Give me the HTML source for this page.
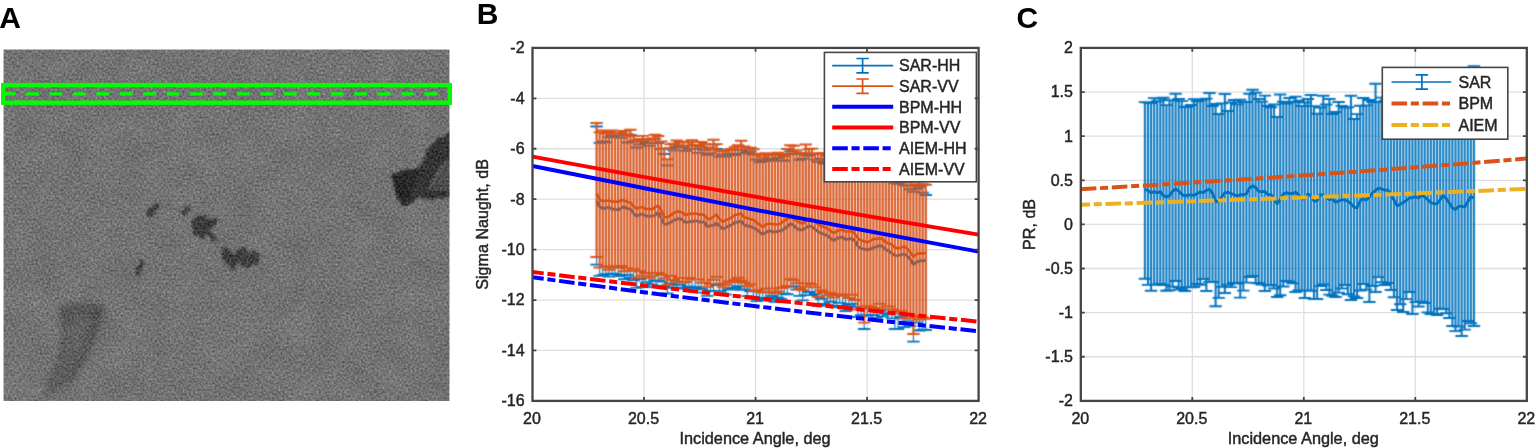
<!DOCTYPE html>
<html lang="en"><head><meta charset="utf-8"><title>SAR sigma naught and PR versus incidence angle</title>
<style>html,body{margin:0;padding:0;background:#fff}body{width:1536px;height:448px;overflow:hidden}svg{display:block}text{font-family:"Liberation Sans", Arial, Helvetica, sans-serif;fill:#262626;stroke:#262626;stroke-width:0.45px}</style></head><body>
<svg width="1536" height="448" viewBox="0 0 1536 448">
<rect width="1536" height="448" fill="#fff"/>
<defs>
<filter id="spk" x="0" y="0" width="100%" height="100%" color-interpolation-filters="sRGB"><feTurbulence type="fractalNoise" baseFrequency="0.47" numOctaves="1" seed="7" result="n"/><feColorMatrix in="n" type="matrix" values="1 0 0 0 0  1 0 0 0 0  1 0 0 0 0  0 0 0 0 1" result="g"/><feComposite in="SourceGraphic" in2="g" operator="arithmetic" k1="0" k2="1" k3="0.40" k4="-0.20" result="s1"/><feTurbulence type="fractalNoise" baseFrequency="0.035" numOctaves="2" seed="21" result="m"/><feColorMatrix in="m" type="matrix" values="0 1 0 0 0  0 1 0 0 0  0 1 0 0 0  0 0 0 0 1" result="mg"/><feComposite in="s1" in2="mg" operator="arithmetic" k1="0" k2="1" k3="0.07" k4="-0.035"/></filter>
<filter id="rough" x="-20%" y="-20%" width="140%" height="140%"><feTurbulence type="fractalNoise" baseFrequency="0.22" numOctaves="2" seed="4" result="t"/><feDisplacementMap in="SourceGraphic" in2="t" scale="7" xChannelSelector="R" yChannelSelector="G" result="d"/><feGaussianBlur in="d" stdDeviation="0.9"/></filter>
<filter id="soft" x="-5%" y="-5%" width="110%" height="110%" color-interpolation-filters="sRGB"><feConvolveMatrix order="3" kernelMatrix="0.0324 0.1152 0.0324 0.1152 0.4096 0.1152 0.0324 0.1152 0.0324" divisor="1" edgeMode="none" preserveAlpha="false"/></filter>
<filter id="b1" x="-20%" y="-20%" width="140%" height="140%"><feGaussianBlur stdDeviation="0.9"/></filter>
<filter id="b4" x="-30%" y="-30%" width="160%" height="160%"><feGaussianBlur stdDeviation="4"/></filter>
<filter id="b3" x="-30%" y="-30%" width="160%" height="160%"><feGaussianBlur stdDeviation="3"/></filter>
<filter id="b2" x="-30%" y="-30%" width="160%" height="160%"><feGaussianBlur stdDeviation="1.8"/></filter>
<clipPath id="cA"><rect x="3.5" y="49.5" width="446" height="351.5"/></clipPath>
<clipPath id="cB"><rect x="532.5" y="47.9" width="446.1" height="353"/></clipPath>
<clipPath id="cC"><rect x="1080.8" y="47.9" width="446" height="353"/></clipPath>
</defs>
<text x="-0.7" y="28.1" font-size="30" font-weight="700" fill="#000" style="fill:#000;stroke:none">A</text>
<g clip-path="url(#cA)">
<g filter="url(#spk)">
<rect x="3.5" y="49.5" width="446" height="351.5" fill="#737373"/>
<path filter="url(#b3)" fill="#505050" fill-opacity="0.55" d="M58 309 L78 303 L104 307 L100 324 L92 347 L78 373 L63 388 L40 402 L49 379 L60 352 L63 329 Z"/>
<path filter="url(#b2)" fill="#484848" fill-opacity="0.35" d="M58 309 L78 303 L104 307 L101 318 L84 316 L70 322 L64 334 L62 352 L52 378 L41 401 L40 402 L49 379 L60 352 L63 329 Z"/>
<path filter="url(#b2)" fill="#484848" fill-opacity="0.35" d="M92 310 L104 307 L100 324 L92 347 L78 373 L66 386 L76 366 L86 340 Z"/>
<g filter="url(#rough)" fill="#363636" fill-opacity="0.88">
<path d="M147 212 l4 -6 l7 -3 l2 3 l-5 6 l-5 5 l-3 -1 z"/>
<path d="M182 211 l3 -6 l6 -2 l0 5 l-4 5 l-3 4 l-3 -1 z"/>
<path d="M191 225 q0 -8 9 -9 q7 0 11 4 l8 -1 l-5 6 l-4 7 l6 5 l3 5 l-7 -1 l-5 -6 l-4 4 l-6 -3 q-6 -4 -6 -11 z"/>
<path d="M222 246 l8 3 l4 7 l5 -7 l9 -3 l-3 6 l9 -2 l7 4 l-3 8 l-8 5 l-8 0 l-4 -6 l-3 9 l-5 -1 l-2 -7 l-2 4 l-4 -9 z"/>
<path d="M135 274 l2 -7 l4 -7 l3 1 l-2 7 l-3 7 l-3 2 z"/>
</g>
<path filter="url(#rough)" fill="#2e2e2e" fill-opacity="0.93" d="M452 133 L437 139 L428 148 L425 157 L420 167 L405 170 L391 174 L394 186 L398 197 L404 207 L412 203 L421 197 L431 200 L452 196 Z"/>
<path filter="url(#b1)" fill="#505050" fill-opacity="0.85" d="M447 162 L440 169 L428 190 L452 192 L452 161 Z"/>
<path filter="url(#b1)" fill="none" stroke="#808080" stroke-opacity="0.75" stroke-width="1.4" d="M448 160 L440 169 L429 189"/>
<path filter="url(#b1)" fill="#1c1c1c" fill-opacity="0.6" d="M392 175 L404 171 L418 170 L414 186 L408 203 L403 206 L397 196 Z"/>
</g>
</g>
<rect x="3.2" y="85.1" width="446.6" height="17.6" fill="none" stroke="#04fb04" stroke-width="4.4"/>
<line x1="2.6" y1="93.95" x2="447" y2="93.95" stroke="#04fb04" stroke-width="3.3" stroke-dasharray="12.9 10.53"/>
<text x="476.8" y="23.9" font-size="30" font-weight="700" style="fill:#000;stroke:none">B</text>
<rect x="532.5" y="47.9" width="446.1" height="353" fill="#fff"/>
<path d="M644.02 47.9V400.9M755.55 47.9V400.9M867.08 47.9V400.9M532.5 350.47H978.6M532.5 300.04H978.6M532.5 249.61H978.6M532.5 199.19H978.6M532.5 148.76H978.6M532.5 98.33H978.6" stroke="#dfdfdf" stroke-width="1.3" fill="none"/>
<g clip-path="url(#cB)">
<g filter="url(#soft)">
<path d="M596.6 264.69V126.51M599.68 275.95V142.84M602.76 275.1V141.37M605.83 274.22V142.26M608.91 276.6V137.33M611.98 273.64V135.48M615.06 274.11V137.39M618.14 276.15V137.36M621.21 275.05V137.61M624.29 279.27V135.09M627.36 274.81V142.52M630.44 277.35V134.92M633.52 280.24V141.4M636.59 287.97V147.51M639.67 279.04V144.43M642.74 286.89V141.47M645.82 282.35V142.88M648.9 287.16V145.79M651.97 284.49V142.99M655.05 280.31V138.72M658.12 281.01V143.12M661.2 281.55V148.86M664.28 286.21V153.98M667.35 293.5V165.35M670.43 283.56V148.15M673.5 287.97V150.33M676.58 287.77V147.15M679.66 284.79V145.82M682.73 288.66V146.95M685.81 288.51V150.78M688.88 286.58V148.96M691.96 287.06V145.66M695.04 286.91V148.94M698.11 288.69V152.79M701.19 289.23V146.56M704.26 292.63V149.96M707.34 295.94V154.78M710.42 290.86V153.46M713.49 291.02V144.67M716.57 285.19V148.81M719.64 291.09V156.57M722.72 293.66V154.56M725.8 294.53V156.53M728.87 289.48V153.65M731.95 288.74V153.73M735.02 287.98V155.03M738.1 286.08V149.91M741.18 289.74V149.95M744.25 289.46V153.44M747.33 296.12V151.83M750.4 291.23V151.54M753.48 296.85V154.62M756.56 301.03V159.71M759.63 298.84V162.16M762.71 300.24V161.33M765.78 297.91V160.08M768.86 299.29V158.67M771.94 295.91V159.43M775.01 301.77V160.96M778.09 297.72V157.91M781.16 299.18V160.42M784.24 293.77V160.76M787.32 294.26V154M790.39 286.96V151.35M793.47 286.48V150.66M796.54 289.68V154.15M799.62 295.92V159.85M802.7 300.28V158.58M805.77 295.18V154.83M808.85 292V155.63M811.92 295.22V153.88M815 293.87V159.66M818.08 305.8V161.83M821.15 298.95V158.76M824.23 303.99V163.64M827.3 305.59V162.15M830.38 301.76V163.62M833.46 306V168.74M836.53 307.15V164.4M839.61 302.85V165.49M842.69 305.78V167.08M845.76 311V168.28M848.84 304.74V166.95M851.91 303.91V169.31M854.99 306.96V170.35M858.07 317.01V172.51M861.14 315.26V175.67M864.22 329V174.76M867.29 315.96V175.76M870.37 315.21V175.51M873.45 314.78V169.87M876.52 317.8V175.08M879.6 310.77V179.85M882.67 316.28V171.74M885.75 313.38V174.83M888.83 314.43V178.53M891.9 318.46V177.26M894.98 329V183.17M898.05 329V183.76M901.13 316.96V181.46M904.21 327.08V185.19M907.28 321.34V185.59M910.36 326.2V189.24M913.43 341.7V191.8M916.51 322.55V188.93M919.59 330.5V186.74M922.66 329.57V192.55M925.74 330V194.98" stroke="#0072bd" stroke-width="1.1" fill="none"/><path d="M590.4 264.69h12.4M590.4 126.51h12.4M593.48 275.95h12.4M593.48 142.84h12.4M596.56 275.1h12.4M596.56 141.37h12.4M599.63 274.22h12.4M599.63 142.26h12.4M602.71 276.6h12.4M602.71 137.33h12.4M605.78 273.64h12.4M605.78 135.48h12.4M608.86 274.11h12.4M608.86 137.39h12.4M611.94 276.15h12.4M611.94 137.36h12.4M615.01 275.05h12.4M615.01 137.61h12.4M618.09 279.27h12.4M618.09 135.09h12.4M621.16 274.81h12.4M621.16 142.52h12.4M624.24 277.35h12.4M624.24 134.92h12.4M627.32 280.24h12.4M627.32 141.4h12.4M630.39 287.97h12.4M630.39 147.51h12.4M633.47 279.04h12.4M633.47 144.43h12.4M636.54 286.89h12.4M636.54 141.47h12.4M639.62 282.35h12.4M639.62 142.88h12.4M642.7 287.16h12.4M642.7 145.79h12.4M645.77 284.49h12.4M645.77 142.99h12.4M648.85 280.31h12.4M648.85 138.72h12.4M651.92 281.01h12.4M651.92 143.12h12.4M655 281.55h12.4M655 148.86h12.4M658.08 286.21h12.4M658.08 153.98h12.4M661.15 293.5h12.4M661.15 165.35h12.4M664.23 283.56h12.4M664.23 148.15h12.4M667.3 287.97h12.4M667.3 150.33h12.4M670.38 287.77h12.4M670.38 147.15h12.4M673.46 284.79h12.4M673.46 145.82h12.4M676.53 288.66h12.4M676.53 146.95h12.4M679.61 288.51h12.4M679.61 150.78h12.4M682.68 286.58h12.4M682.68 148.96h12.4M685.76 287.06h12.4M685.76 145.66h12.4M688.84 286.91h12.4M688.84 148.94h12.4M691.91 288.69h12.4M691.91 152.79h12.4M694.99 289.23h12.4M694.99 146.56h12.4M698.06 292.63h12.4M698.06 149.96h12.4M701.14 295.94h12.4M701.14 154.78h12.4M704.22 290.86h12.4M704.22 153.46h12.4M707.29 291.02h12.4M707.29 144.67h12.4M710.37 285.19h12.4M710.37 148.81h12.4M713.44 291.09h12.4M713.44 156.57h12.4M716.52 293.66h12.4M716.52 154.56h12.4M719.6 294.53h12.4M719.6 156.53h12.4M722.67 289.48h12.4M722.67 153.65h12.4M725.75 288.74h12.4M725.75 153.73h12.4M728.82 287.98h12.4M728.82 155.03h12.4M731.9 286.08h12.4M731.9 149.91h12.4M734.98 289.74h12.4M734.98 149.95h12.4M738.05 289.46h12.4M738.05 153.44h12.4M741.13 296.12h12.4M741.13 151.83h12.4M744.2 291.23h12.4M744.2 151.54h12.4M747.28 296.85h12.4M747.28 154.62h12.4M750.36 301.03h12.4M750.36 159.71h12.4M753.43 298.84h12.4M753.43 162.16h12.4M756.51 300.24h12.4M756.51 161.33h12.4M759.58 297.91h12.4M759.58 160.08h12.4M762.66 299.29h12.4M762.66 158.67h12.4M765.74 295.91h12.4M765.74 159.43h12.4M768.81 301.77h12.4M768.81 160.96h12.4M771.89 297.72h12.4M771.89 157.91h12.4M774.96 299.18h12.4M774.96 160.42h12.4M778.04 293.77h12.4M778.04 160.76h12.4M781.12 294.26h12.4M781.12 154h12.4M784.19 286.96h12.4M784.19 151.35h12.4M787.27 286.48h12.4M787.27 150.66h12.4M790.34 289.68h12.4M790.34 154.15h12.4M793.42 295.92h12.4M793.42 159.85h12.4M796.5 300.28h12.4M796.5 158.58h12.4M799.57 295.18h12.4M799.57 154.83h12.4M802.65 292h12.4M802.65 155.63h12.4M805.72 295.22h12.4M805.72 153.88h12.4M808.8 293.87h12.4M808.8 159.66h12.4M811.88 305.8h12.4M811.88 161.83h12.4M814.95 298.95h12.4M814.95 158.76h12.4M818.03 303.99h12.4M818.03 163.64h12.4M821.1 305.59h12.4M821.1 162.15h12.4M824.18 301.76h12.4M824.18 163.62h12.4M827.26 306h12.4M827.26 168.74h12.4M830.33 307.15h12.4M830.33 164.4h12.4M833.41 302.85h12.4M833.41 165.49h12.4M836.49 305.78h12.4M836.49 167.08h12.4M839.56 311h12.4M839.56 168.28h12.4M842.64 304.74h12.4M842.64 166.95h12.4M845.71 303.91h12.4M845.71 169.31h12.4M848.79 306.96h12.4M848.79 170.35h12.4M851.87 317.01h12.4M851.87 172.51h12.4M854.94 315.26h12.4M854.94 175.67h12.4M858.02 329h12.4M858.02 174.76h12.4M861.09 315.96h12.4M861.09 175.76h12.4M864.17 315.21h12.4M864.17 175.51h12.4M867.25 314.78h12.4M867.25 169.87h12.4M870.32 317.8h12.4M870.32 175.08h12.4M873.4 310.77h12.4M873.4 179.85h12.4M876.47 316.28h12.4M876.47 171.74h12.4M879.55 313.38h12.4M879.55 174.83h12.4M882.63 314.43h12.4M882.63 178.53h12.4M885.7 318.46h12.4M885.7 177.26h12.4M888.78 329h12.4M888.78 183.17h12.4M891.85 329h12.4M891.85 183.76h12.4M894.93 316.96h12.4M894.93 181.46h12.4M898.01 327.08h12.4M898.01 185.19h12.4M901.08 321.34h12.4M901.08 185.59h12.4M904.16 326.2h12.4M904.16 189.24h12.4M907.23 341.7h12.4M907.23 191.8h12.4M910.31 322.55h12.4M910.31 188.93h12.4M913.39 330.5h12.4M913.39 186.74h12.4M916.46 329.57h12.4M916.46 192.55h12.4M919.54 330h12.4M919.54 194.98h12.4" stroke="#0072bd" stroke-width="1.8" fill="none"/>
<polyline points="596.6,200.69 599.68,206.7 602.76,208.62 605.83,207.95 608.91,207.31 611.98,208.85 615.06,209.35 618.14,210.09 621.21,207.94 624.29,206.8 627.36,208.63 630.44,208.88 633.52,213.36 636.59,216.46 639.67,214.39 642.74,214.45 645.82,215.84 648.9,216.29 651.97,216.17 655.05,215.35 658.12,212.2 661.2,218.23 664.28,224.23 667.35,223.95 670.43,222.4 673.5,220.5 676.58,219.22 679.66,218.38 682.73,220.26 685.81,222.86 688.88,221.6 691.96,221.65 695.04,220.65 698.11,221.34 701.19,222.45 704.26,221.83 707.34,226.9 710.42,225.51 713.49,225.38 716.57,223.12 719.64,226.04 722.72,229.19 725.8,227.71 728.87,225.8 731.95,224.88 735.02,221.94 738.1,222.27 741.18,221.02 744.25,224.85 747.33,225.9 750.4,226.35 753.48,227.76 756.56,229.5 759.63,231.95 762.71,234.35 765.78,232.59 768.86,230.77 771.94,231.52 775.01,232.35 778.09,231.05 781.16,230.94 784.24,228.9 787.32,226.56 790.39,223.57 793.47,225.3 796.54,228.35 799.62,229.83 802.7,229.82 805.77,227.95 808.85,225.95 811.92,226.57 815,229.3 818.08,231.6 821.15,233.24 824.23,234.39 827.3,235.49 830.38,238.22 833.46,240.54 836.53,238.8 839.61,237.35 842.69,237.36 845.76,239.57 848.84,238.98 851.91,238.6 854.99,240.94 858.07,246.6 861.14,248.45 864.22,248.95 867.29,249.89 870.37,249.06 873.45,247.69 876.52,246.69 879.6,245.59 882.67,246.63 885.75,249.55 888.83,251.22 891.9,253.3 894.98,255.71 898.05,255.52 901.13,254.71 904.21,254.02 907.28,256.15 910.36,259.31 913.43,264.5 916.51,261.93 919.59,260.94 922.66,260.56 925.74,260.64" stroke="#1f5f9a" stroke-width="2.6" fill="none" stroke-linejoin="round"/>
<path d="M596.6 257.06V123M599.68 267.44V132.4M602.76 267.55V130.41M605.83 266.5V133.18M608.91 269.85V131.87M611.98 266.18V130.38M615.06 267.81V132.89M618.14 266.74V133.16M621.21 265.96V132.68M624.29 271.32V130.85M627.36 268.36V134.19M630.44 270.91V129.7M633.52 268.89V136.11M636.59 278.13V140.47M639.67 271.31V138.85M642.74 275.74V135.9M645.82 273.06V139.01M648.9 277.83V139.78M651.97 275.71V138.37M655.05 273.13V134.77M658.12 272.96V135.97M661.2 274.71V141.43M664.28 278.53V148.33M667.35 284.97V159.2M670.43 276.06V144.34M673.5 279.92V143.8M676.58 281.46V140.38M679.66 277.95V141.69M682.73 282.5V141.84M685.81 282.02V145.34M688.88 277.92V142.46M691.96 279.51V140.32M695.04 279.38V145.02M698.11 279.53V145.85M701.19 282.64V141.99M704.26 282.76V144.05M707.34 286.87V147.39M710.42 284.05V148.3M713.49 279.79V139.7M716.57 276.84V144.09M719.64 283.75V150.27M722.72 287.33V151M725.8 284.75V150.34M728.87 281.44V149.65M731.95 282.41V149.02M735.02 280.02V146.84M738.1 277.82V145.3M741.18 280.75V140.8M744.25 282.79V146.49M747.33 286.48V147.64M750.4 284.37V147.63M753.48 290.51V149.3M756.56 290.11V153.62M759.63 291.67V154.78M762.71 292.56V157.09M765.78 288.71V153.29M768.86 291.63V155.16M771.94 288.46V153.75M775.01 293.42V155.08M778.09 291.46V152.69M781.16 287.99V154.23M784.24 287.5V156.21M787.32 285.99V148.95M790.39 279.3V145.23M793.47 280.23V145.7M796.54 283.32V150.57M799.62 288.96V152.93M802.7 290.2V153.23M805.77 286.84V144.5M808.85 283.36V149.15M811.92 284.62V148.62M815 287.36V153.11M818.08 297V154.1M821.15 290.55V153.04M824.23 292.49V159.8M827.3 295.5V155.84M830.38 293.22V159.82M833.46 297.66V162.41M836.53 295.17V160.09M839.61 294.42V158.7M842.69 295.75V162.04M845.76 294.87V161.52M848.84 297.93V162.48M851.91 294.74V164.7M854.99 300.04V166.41M858.07 309.5V167.07M861.14 308.71V171.37M864.22 322.6V170.58M867.29 306.08V171.26M870.37 306.88V171.12M873.45 307.98V166.36M876.52 309.23V168.68M879.6 303.91V169.37M882.67 309.3V167.51M885.75 306.6V171.05M888.83 306.55V173.47M891.9 309.44V173.12M894.98 313.36V177.46M898.05 311.26V178.75M901.13 310.92V175.64M904.21 318.49V176.38M907.28 314.51V178.96M910.36 318.26V181.88M913.43 334V185.85M916.51 315.98V184.08M919.59 319.44V181.18M922.66 317.39V183.92M925.74 318.81V184.72" stroke="#d95319" stroke-width="2.1" fill="none"/><path d="M590.4 257.06h12.4M590.4 123h12.4M593.48 267.44h12.4M593.48 132.4h12.4M596.56 267.55h12.4M596.56 130.41h12.4M599.63 266.5h12.4M599.63 133.18h12.4M602.71 269.85h12.4M602.71 131.87h12.4M605.78 266.18h12.4M605.78 130.38h12.4M608.86 267.81h12.4M608.86 132.89h12.4M611.94 266.74h12.4M611.94 133.16h12.4M615.01 265.96h12.4M615.01 132.68h12.4M618.09 271.32h12.4M618.09 130.85h12.4M621.16 268.36h12.4M621.16 134.19h12.4M624.24 270.91h12.4M624.24 129.7h12.4M627.32 268.89h12.4M627.32 136.11h12.4M630.39 278.13h12.4M630.39 140.47h12.4M633.47 271.31h12.4M633.47 138.85h12.4M636.54 275.74h12.4M636.54 135.9h12.4M639.62 273.06h12.4M639.62 139.01h12.4M642.7 277.83h12.4M642.7 139.78h12.4M645.77 275.71h12.4M645.77 138.37h12.4M648.85 273.13h12.4M648.85 134.77h12.4M651.92 272.96h12.4M651.92 135.97h12.4M655 274.71h12.4M655 141.43h12.4M658.08 278.53h12.4M658.08 148.33h12.4M661.15 284.97h12.4M661.15 159.2h12.4M664.23 276.06h12.4M664.23 144.34h12.4M667.3 279.92h12.4M667.3 143.8h12.4M670.38 281.46h12.4M670.38 140.38h12.4M673.46 277.95h12.4M673.46 141.69h12.4M676.53 282.5h12.4M676.53 141.84h12.4M679.61 282.02h12.4M679.61 145.34h12.4M682.68 277.92h12.4M682.68 142.46h12.4M685.76 279.51h12.4M685.76 140.32h12.4M688.84 279.38h12.4M688.84 145.02h12.4M691.91 279.53h12.4M691.91 145.85h12.4M694.99 282.64h12.4M694.99 141.99h12.4M698.06 282.76h12.4M698.06 144.05h12.4M701.14 286.87h12.4M701.14 147.39h12.4M704.22 284.05h12.4M704.22 148.3h12.4M707.29 279.79h12.4M707.29 139.7h12.4M710.37 276.84h12.4M710.37 144.09h12.4M713.44 283.75h12.4M713.44 150.27h12.4M716.52 287.33h12.4M716.52 151h12.4M719.6 284.75h12.4M719.6 150.34h12.4M722.67 281.44h12.4M722.67 149.65h12.4M725.75 282.41h12.4M725.75 149.02h12.4M728.82 280.02h12.4M728.82 146.84h12.4M731.9 277.82h12.4M731.9 145.3h12.4M734.98 280.75h12.4M734.98 140.8h12.4M738.05 282.79h12.4M738.05 146.49h12.4M741.13 286.48h12.4M741.13 147.64h12.4M744.2 284.37h12.4M744.2 147.63h12.4M747.28 290.51h12.4M747.28 149.3h12.4M750.36 290.11h12.4M750.36 153.62h12.4M753.43 291.67h12.4M753.43 154.78h12.4M756.51 292.56h12.4M756.51 157.09h12.4M759.58 288.71h12.4M759.58 153.29h12.4M762.66 291.63h12.4M762.66 155.16h12.4M765.74 288.46h12.4M765.74 153.75h12.4M768.81 293.42h12.4M768.81 155.08h12.4M771.89 291.46h12.4M771.89 152.69h12.4M774.96 287.99h12.4M774.96 154.23h12.4M778.04 287.5h12.4M778.04 156.21h12.4M781.12 285.99h12.4M781.12 148.95h12.4M784.19 279.3h12.4M784.19 145.23h12.4M787.27 280.23h12.4M787.27 145.7h12.4M790.34 283.32h12.4M790.34 150.57h12.4M793.42 288.96h12.4M793.42 152.93h12.4M796.5 290.2h12.4M796.5 153.23h12.4M799.57 286.84h12.4M799.57 144.5h12.4M802.65 283.36h12.4M802.65 149.15h12.4M805.72 284.62h12.4M805.72 148.62h12.4M808.8 287.36h12.4M808.8 153.11h12.4M811.88 297h12.4M811.88 154.1h12.4M814.95 290.55h12.4M814.95 153.04h12.4M818.03 292.49h12.4M818.03 159.8h12.4M821.1 295.5h12.4M821.1 155.84h12.4M824.18 293.22h12.4M824.18 159.82h12.4M827.26 297.66h12.4M827.26 162.41h12.4M830.33 295.17h12.4M830.33 160.09h12.4M833.41 294.42h12.4M833.41 158.7h12.4M836.49 295.75h12.4M836.49 162.04h12.4M839.56 294.87h12.4M839.56 161.52h12.4M842.64 297.93h12.4M842.64 162.48h12.4M845.71 294.74h12.4M845.71 164.7h12.4M848.79 300.04h12.4M848.79 166.41h12.4M851.87 309.5h12.4M851.87 167.07h12.4M854.94 308.71h12.4M854.94 171.37h12.4M858.02 322.6h12.4M858.02 170.58h12.4M861.09 306.08h12.4M861.09 171.26h12.4M864.17 306.88h12.4M864.17 171.12h12.4M867.25 307.98h12.4M867.25 166.36h12.4M870.32 309.23h12.4M870.32 168.68h12.4M873.4 303.91h12.4M873.4 169.37h12.4M876.47 309.3h12.4M876.47 167.51h12.4M879.55 306.6h12.4M879.55 171.05h12.4M882.63 306.55h12.4M882.63 173.47h12.4M885.7 309.44h12.4M885.7 173.12h12.4M888.78 313.36h12.4M888.78 177.46h12.4M891.85 311.26h12.4M891.85 178.75h12.4M894.93 310.92h12.4M894.93 175.64h12.4M898.01 318.49h12.4M898.01 176.38h12.4M901.08 314.51h12.4M901.08 178.96h12.4M904.16 318.26h12.4M904.16 181.88h12.4M907.23 334h12.4M907.23 185.85h12.4M910.31 315.98h12.4M910.31 184.08h12.4M913.39 319.44h12.4M913.39 181.18h12.4M916.46 317.39h12.4M916.46 183.92h12.4M919.54 318.81h12.4M919.54 184.72h12.4" stroke="#d95319" stroke-width="1.9" fill="none"/>
</g>
<polyline points="596.6,193.27 599.68,199.66 602.76,201.07 605.83,200.68 608.91,200.72 611.98,201.52 615.06,201.63 618.14,201.79 621.21,200.36 624.29,200.52 627.36,201.94 630.44,202.45 633.52,206.31 636.59,208.52 639.67,207.48 642.74,206.99 645.82,209.23 648.9,208.66 651.97,209.52 655.05,207.14 658.12,205.68 661.2,210.22 664.28,217.11 667.35,217.28 670.43,215.29 673.5,213.41 676.58,211.6 679.66,211.51 682.73,212.87 685.81,215.24 688.88,213.66 691.96,214.1 695.04,213.21 698.11,214.39 701.19,214.22 704.26,215.11 707.34,218.87 710.42,218.92 713.49,216.51 716.57,214.63 719.64,219.35 722.72,221.85 725.8,220.03 728.87,218.95 731.95,217.27 735.02,214.91 738.1,214.16 741.18,213.64 744.25,217.45 747.33,217.88 750.4,219.35 753.48,219.7 756.56,222.43 759.63,224.57 762.71,227.02 765.78,224.59 768.86,223.79 771.94,224.07 775.01,224.44 778.09,224.47 781.16,223.09 784.24,220.6 787.32,219 790.39,216.04 793.47,218.65 796.54,220.67 799.62,222.58 802.7,223.6 805.77,221.28 808.85,218.5 811.92,218.84 815,221.51 818.08,224.38 821.15,226.09 824.23,226.92 827.3,228.61 830.38,230.75 833.46,233.01 836.53,231.53 839.61,229.96 842.69,229.75 845.76,231.56 848.84,231.48 851.91,231.23 854.99,234.13 858.07,238.62 861.14,240.46 864.22,241.14 867.29,242.41 870.37,240.86 873.45,238.99 876.52,238.95 879.6,238.19 882.67,239.28 885.75,242.31 888.83,243.61 891.9,244.57 894.98,247.52 898.05,248.27 901.13,247.54 904.21,246.35 907.28,248.82 910.36,252.48 913.43,256.56 916.51,254.18 919.59,253.26 922.66,253.35 925.74,252.93" stroke="#d95319" stroke-width="2.6" fill="none" stroke-linejoin="round"/>
<polyline points="596.6,200.69 599.68,206.7 602.76,208.62 605.83,207.95 608.91,207.31 611.98,208.85 615.06,209.35 618.14,210.09 621.21,207.94 624.29,206.8 627.36,208.63 630.44,208.88 633.52,213.36 636.59,216.46 639.67,214.39 642.74,214.45 645.82,215.84 648.9,216.29 651.97,216.17 655.05,215.35 658.12,212.2 661.2,218.23 664.28,224.23 667.35,223.95 670.43,222.4 673.5,220.5 676.58,219.22 679.66,218.38 682.73,220.26 685.81,222.86 688.88,221.6 691.96,221.65 695.04,220.65 698.11,221.34 701.19,222.45 704.26,221.83 707.34,226.9 710.42,225.51 713.49,225.38 716.57,223.12 719.64,226.04 722.72,229.19 725.8,227.71 728.87,225.8 731.95,224.88 735.02,221.94 738.1,222.27 741.18,221.02 744.25,224.85 747.33,225.9 750.4,226.35 753.48,227.76 756.56,229.5 759.63,231.95 762.71,234.35 765.78,232.59 768.86,230.77 771.94,231.52 775.01,232.35 778.09,231.05 781.16,230.94 784.24,228.9 787.32,226.56 790.39,223.57 793.47,225.3 796.54,228.35 799.62,229.83 802.7,229.82 805.77,227.95 808.85,225.95 811.92,226.57 815,229.3 818.08,231.6 821.15,233.24 824.23,234.39 827.3,235.49 830.38,238.22 833.46,240.54 836.53,238.8 839.61,237.35 842.69,237.36 845.76,239.57 848.84,238.98 851.91,238.6 854.99,240.94 858.07,246.6 861.14,248.45 864.22,248.95 867.29,249.89 870.37,249.06 873.45,247.69 876.52,246.69 879.6,245.59 882.67,246.63 885.75,249.55 888.83,251.22 891.9,253.3 894.98,255.71 898.05,255.52 901.13,254.71 904.21,254.02 907.28,256.15 910.36,259.31 913.43,264.5 916.51,261.93 919.59,260.94 922.66,260.56 925.74,260.64" stroke="#5b6b80" stroke-width="1.0" fill="none" stroke-opacity="0.45" stroke-linejoin="round"/>
<path d="M532.5 166Q755.55 210.8 978.6 251.6" fill="none" stroke="#0000ff" stroke-width="4"/>
<path d="M532.5 156.6Q755.55 198 978.6 234.6" fill="none" stroke="#ff0000" stroke-width="4"/>
<path d="M532.5 277.2Q755.55 308.2 978.6 331.2" fill="none" stroke="#0000ff" stroke-width="4" stroke-dasharray="15.6 3.7 8.1 3.7" stroke-dashoffset="4.3"/>
<path d="M532.5 272Q755.55 299.6 978.6 321.6" fill="none" stroke="#ff0000" stroke-width="4" stroke-dasharray="15.6 3.7 8.1 3.7" stroke-dashoffset="4.3"/>
</g>
<rect x="824.4" y="52.4" width="152" height="129.4" fill="#fff" stroke="#454545" stroke-width="1.6"/>
<path d="M832.2 65.7H893.2M862.6 58.5V72.9M856.4 58.5h12.4M856.4 72.9h12.4" stroke="#0072bd" stroke-width="1.7" fill="none"/>
<path d="M832.2 86.2H893.2M862.6 79V93.4M856.4 79h12.4M856.4 93.4h12.4" stroke="#d95319" stroke-width="1.7" fill="none"/>
<line x1="832.2" y1="106.8" x2="893.2" y2="106.8" stroke="#0000ff" stroke-width="4"/>
<line x1="832.2" y1="127.5" x2="893.2" y2="127.5" stroke="#ff0000" stroke-width="4"/>
<line x1="832.2" y1="148.3" x2="891" y2="148.3" stroke="#0000ff" stroke-width="4" stroke-dasharray="15.6 3.7 8.1 3.7"/>
<line x1="832.2" y1="168.9" x2="891" y2="168.9" stroke="#ff0000" stroke-width="4" stroke-dasharray="15.6 3.7 8.1 3.7"/>
<text x="899" y="71.4" font-size="16">SAR-HH</text>
<text x="899" y="91.9" font-size="16">SAR-VV</text>
<text x="899" y="112.5" font-size="16">BPM-HH</text>
<text x="899" y="133.2" font-size="16">BPM-VV</text>
<text x="899" y="154" font-size="16">AIEM-HH</text>
<text x="899" y="174.6" font-size="16">AIEM-VV</text>
<path d="M644.02 400.9v-3.9M644.02 47.9v3.9M755.55 400.9v-3.9M755.55 47.9v3.9M867.08 400.9v-3.9M867.08 47.9v3.9M532.5 350.47h3.9M978.6 350.47h-3.9M532.5 300.04h3.9M978.6 300.04h-3.9M532.5 249.61h3.9M978.6 249.61h-3.9M532.5 199.19h3.9M978.6 199.19h-3.9M532.5 148.76h3.9M978.6 148.76h-3.9M532.5 98.33h3.9M978.6 98.33h-3.9" stroke="#454545" stroke-width="1.8" fill="none"/>
<rect x="532.5" y="47.9" width="446.1" height="353" fill="none" stroke="#454545" stroke-width="2.3"/>
<text x="532" y="424" font-size="16" text-anchor="middle">20</text>
<text x="643.52" y="424" font-size="16" text-anchor="middle">20.5</text>
<text x="755.05" y="424" font-size="16" text-anchor="middle">21</text>
<text x="866.58" y="424" font-size="16" text-anchor="middle">21.5</text>
<text x="978.1" y="424" font-size="16" text-anchor="middle">22</text>
<text x="524.6" y="406.3" font-size="16" text-anchor="end">-16</text>
<text x="524.6" y="355.87" font-size="16" text-anchor="end">-14</text>
<text x="524.6" y="305.44" font-size="16" text-anchor="end">-12</text>
<text x="524.6" y="255.01" font-size="16" text-anchor="end">-10</text>
<text x="524.6" y="204.59" font-size="16" text-anchor="end">-8</text>
<text x="524.6" y="154.16" font-size="16" text-anchor="end">-6</text>
<text x="524.6" y="103.73" font-size="16" text-anchor="end">-4</text>
<text x="524.6" y="53.3" font-size="16" text-anchor="end">-2</text>
<text x="755.05" y="444.3" font-size="16.3" text-anchor="middle">Incidence Angle, deg</text>
<text transform="translate(488.4 224.4) rotate(-90)" font-size="16.1" text-anchor="middle">Sigma Naught, dB</text>
<text x="1016.6" y="28.0" font-size="30" font-weight="700" style="fill:#000;stroke:none">C</text>
<rect x="1080.8" y="47.9" width="446" height="353" fill="#fff"/>
<path d="M1192.3 47.9V400.9M1303.8 47.9V400.9M1415.3 47.9V400.9M1080.8 356.77H1526.8M1080.8 312.65H1526.8M1080.8 268.52H1526.8M1080.8 224.4H1526.8M1080.8 180.28H1526.8M1080.8 136.15H1526.8M1080.8 92.03H1526.8" stroke="#dfdfdf" stroke-width="1.3" fill="none"/>
<g clip-path="url(#cC)">
<g filter="url(#soft)">
<path d="M1144.89 278.7V102.1M1147.97 284.92V102.61M1151.04 290.7V102.95M1154.12 284.69V98.1M1157.19 284.48V101.21M1160.27 284V98.5M1163.34 285.03V97.69M1166.42 290.7V105.1M1169.49 290.25V100.33M1172.57 286.63V100.24M1175.64 281V93.7M1178.72 287.5V99M1181.79 289.44V101.13M1184.87 291V107M1187.94 287.3V106.63M1191.02 287.24V105.04M1194.1 287V99.2M1197.17 284.02V101.34M1200.25 284.79V100M1203.32 279V99.13M1206.4 291V98.6M1209.47 282V93M1212.55 282V106M1215.62 306.2V103.96M1218.7 297.86V114.04M1221.77 286.83V103.33M1224.85 293V94M1227.92 284.82V111M1231 287.13V102.56M1234.07 283V100M1237.15 283.59V104.39M1240.22 297.6V99.75M1243.3 290.61V102M1246.38 282.65V101.98M1249.45 277.01V93.72M1252.53 276V89.7M1255.6 282.89V92.69M1258.68 283.24V99M1261.75 284.58V101.6M1264.83 291V95.65M1267.9 285.44V106M1270.98 285V107.29M1274.05 288.53V104.49M1277.13 297V117M1280.2 295.22V94.5M1283.28 286.48V101.69M1286.35 281V103.45M1289.43 281.64V98M1292.51 283.33V101.95M1295.58 292V96.58M1298.66 290.34V100.58M1301.73 290.91V106M1304.81 298V102.46M1307.88 290.34V98.96M1310.96 290.79V95M1314.03 299V106.17M1317.11 299V113.8M1320.18 286.17V107.55M1323.26 284.56V95.7M1326.33 290V104.52M1329.41 294.63V99M1332.48 295.77V114M1335.56 297V111.93M1338.64 292.59V102M1341.71 288.44V105.9M1344.79 285V107.52M1347.86 294.22V107.25M1350.94 300V95.7M1354.01 296.41V119M1357.09 298.04V114.13M1360.16 290.43V105.75M1363.24 284V98M1366.31 289.62V105.36M1369.39 302V100M1372.46 286.01V102.03M1375.54 292V83.7M1378.61 277.13V102M1381.69 282.25V97.67M1384.76 285V100.89M1387.84 283.03V95.86M1390.92 290V99.02M1393.99 297.21V104.04M1397.07 310V108.98M1400.14 304.25V105.12M1403.22 312V102.9M1406.29 299.11V100.02M1409.37 292V96.42M1412.44 314V91.96M1415.52 302.09V90.36M1418.59 306.49V96.81M1421.67 301.64V87.77M1424.74 303V90.82M1427.82 312.42V93.16M1430.89 314.07V91.45M1433.97 314V90.88M1437.05 314.98V89.89M1440.12 308.78V84.63M1443.2 309V76.91M1446.27 313.3V82.6M1449.35 318V86.01M1452.42 326V85.63M1455.5 331.09V87.85M1458.57 326.56V82.2M1461.65 336V88.66M1464.72 329.65V81.15M1467.8 321V74.88M1470.87 323.32V69.76M1473.95 326V66.3" stroke="#0072bd" stroke-width="2.0" fill="none"/><path d="M1138.69 278.7h12.4M1138.69 102.1h12.4M1141.77 284.92h12.4M1141.77 102.61h12.4M1144.84 290.7h12.4M1144.84 102.95h12.4M1147.92 284.69h12.4M1147.92 98.1h12.4M1150.99 284.48h12.4M1150.99 101.21h12.4M1154.07 284h12.4M1154.07 98.5h12.4M1157.14 285.03h12.4M1157.14 97.69h12.4M1160.22 290.7h12.4M1160.22 105.1h12.4M1163.29 290.25h12.4M1163.29 100.33h12.4M1166.37 286.63h12.4M1166.37 100.24h12.4M1169.44 281h12.4M1169.44 93.7h12.4M1172.52 287.5h12.4M1172.52 99h12.4M1175.59 289.44h12.4M1175.59 101.13h12.4M1178.67 291h12.4M1178.67 107h12.4M1181.74 287.3h12.4M1181.74 106.63h12.4M1184.82 287.24h12.4M1184.82 105.04h12.4M1187.9 287h12.4M1187.9 99.2h12.4M1190.97 284.02h12.4M1190.97 101.34h12.4M1194.05 284.79h12.4M1194.05 100h12.4M1197.12 279h12.4M1197.12 99.13h12.4M1200.2 291h12.4M1200.2 98.6h12.4M1203.27 282h12.4M1203.27 93h12.4M1206.35 282h12.4M1206.35 106h12.4M1209.42 306.2h12.4M1209.42 103.96h12.4M1212.5 297.86h12.4M1212.5 114.04h12.4M1215.57 286.83h12.4M1215.57 103.33h12.4M1218.65 293h12.4M1218.65 94h12.4M1221.72 284.82h12.4M1221.72 111h12.4M1224.8 287.13h12.4M1224.8 102.56h12.4M1227.87 283h12.4M1227.87 100h12.4M1230.95 283.59h12.4M1230.95 104.39h12.4M1234.02 297.6h12.4M1234.02 99.75h12.4M1237.1 290.61h12.4M1237.1 102h12.4M1240.18 282.65h12.4M1240.18 101.98h12.4M1243.25 277.01h12.4M1243.25 93.72h12.4M1246.33 276h12.4M1246.33 89.7h12.4M1249.4 282.89h12.4M1249.4 92.69h12.4M1252.48 283.24h12.4M1252.48 99h12.4M1255.55 284.58h12.4M1255.55 101.6h12.4M1258.63 291h12.4M1258.63 95.65h12.4M1261.7 285.44h12.4M1261.7 106h12.4M1264.78 285h12.4M1264.78 107.29h12.4M1267.85 288.53h12.4M1267.85 104.49h12.4M1270.93 297h12.4M1270.93 117h12.4M1274 295.22h12.4M1274 94.5h12.4M1277.08 286.48h12.4M1277.08 101.69h12.4M1280.15 281h12.4M1280.15 103.45h12.4M1283.23 281.64h12.4M1283.23 98h12.4M1286.31 283.33h12.4M1286.31 101.95h12.4M1289.38 292h12.4M1289.38 96.58h12.4M1292.46 290.34h12.4M1292.46 100.58h12.4M1295.53 290.91h12.4M1295.53 106h12.4M1298.61 298h12.4M1298.61 102.46h12.4M1301.68 290.34h12.4M1301.68 98.96h12.4M1304.76 290.79h12.4M1304.76 95h12.4M1307.83 299h12.4M1307.83 106.17h12.4M1310.91 299h12.4M1310.91 113.8h12.4M1313.98 286.17h12.4M1313.98 107.55h12.4M1317.06 284.56h12.4M1317.06 95.7h12.4M1320.13 290h12.4M1320.13 104.52h12.4M1323.21 294.63h12.4M1323.21 99h12.4M1326.28 295.77h12.4M1326.28 114h12.4M1329.36 297h12.4M1329.36 111.93h12.4M1332.44 292.59h12.4M1332.44 102h12.4M1335.51 288.44h12.4M1335.51 105.9h12.4M1338.59 285h12.4M1338.59 107.52h12.4M1341.66 294.22h12.4M1341.66 107.25h12.4M1344.74 300h12.4M1344.74 95.7h12.4M1347.81 296.41h12.4M1347.81 119h12.4M1350.89 298.04h12.4M1350.89 114.13h12.4M1353.96 290.43h12.4M1353.96 105.75h12.4M1357.04 284h12.4M1357.04 98h12.4M1360.11 289.62h12.4M1360.11 105.36h12.4M1363.19 302h12.4M1363.19 100h12.4M1366.26 286.01h12.4M1366.26 102.03h12.4M1369.34 292h12.4M1369.34 83.7h12.4M1372.41 277.13h12.4M1372.41 102h12.4M1375.49 282.25h12.4M1375.49 97.67h12.4M1378.56 285h12.4M1378.56 100.89h12.4M1381.64 283.03h12.4M1381.64 95.86h12.4M1384.72 290h12.4M1384.72 99.02h12.4M1387.79 297.21h12.4M1387.79 104.04h12.4M1390.87 310h12.4M1390.87 108.98h12.4M1393.94 304.25h12.4M1393.94 105.12h12.4M1397.02 312h12.4M1397.02 102.9h12.4M1400.09 299.11h12.4M1400.09 100.02h12.4M1403.17 292h12.4M1403.17 96.42h12.4M1406.24 314h12.4M1406.24 91.96h12.4M1409.32 302.09h12.4M1409.32 90.36h12.4M1412.39 306.49h12.4M1412.39 96.81h12.4M1415.47 301.64h12.4M1415.47 87.77h12.4M1418.54 303h12.4M1418.54 90.82h12.4M1421.62 312.42h12.4M1421.62 93.16h12.4M1424.69 314.07h12.4M1424.69 91.45h12.4M1427.77 314h12.4M1427.77 90.88h12.4M1430.85 314.98h12.4M1430.85 89.89h12.4M1433.92 308.78h12.4M1433.92 84.63h12.4M1437 309h12.4M1437 76.91h12.4M1440.07 313.3h12.4M1440.07 82.6h12.4M1443.15 318h12.4M1443.15 86.01h12.4M1446.22 326h12.4M1446.22 85.63h12.4M1449.3 331.09h12.4M1449.3 87.85h12.4M1452.37 326.56h12.4M1452.37 82.2h12.4M1455.45 336h12.4M1455.45 88.66h12.4M1458.52 329.65h12.4M1458.52 81.15h12.4M1461.6 321h12.4M1461.6 74.88h12.4M1464.67 323.32h12.4M1464.67 69.76h12.4M1467.75 326h12.4M1467.75 66.3h12.4" stroke="#0072bd" stroke-width="1.9" fill="none"/>
</g>
<polyline points="1144.89,189.37 1147.97,190.51 1151.04,192.93 1154.12,191.59 1157.19,193.1 1160.27,191.62 1163.34,195.53 1166.42,196.95 1169.49,195.66 1172.57,191.28 1175.64,188.84 1178.72,191.11 1181.79,194.3 1184.87,196.11 1187.94,194.83 1191.02,195.15 1194.1,195.25 1197.17,193.57 1200.25,192.01 1203.32,192.65 1206.4,190.39 1209.47,189.17 1212.55,193.44 1215.62,201.16 1218.7,201.96 1221.77,196.6 1224.85,192.88 1227.92,192.31 1231,193.57 1234.07,194.78 1237.15,196.01 1240.22,194.74 1243.3,194.75 1246.38,193.96 1249.45,188.13 1252.53,185.82 1255.6,187.43 1258.68,191.29 1261.75,191.61 1264.83,191.5 1267.9,194.58 1270.98,194.68 1274.05,198.7 1277.13,203.83 1280.2,199.58 1283.28,193.99 1286.35,192.67 1289.43,193.62 1292.51,193.51 1295.58,192.22 1298.66,194.9 1301.73,198.77 1304.81,199.07 1307.88,193.95 1310.96,195.67 1314.03,201.12 1317.11,200.92 1320.18,194.6 1323.26,195.11 1326.33,197.33 1329.41,199.74 1332.48,199.16 1335.56,202.12 1338.64,201.18 1341.71,199.66 1344.79,200.19 1347.86,201.09 1350.94,203.66 1354.01,207.14 1357.09,207.79 1360.16,200.96 1363.24,198.72 1366.31,200.15 1369.39,196.75 1372.46,193.25 1375.54,190.32 1378.61,188 1381.69,189.01 1384.76,190.11 1387.84,189.93 1390.92,195.44 1393.99,199.85 1397.07,205.91 1400.14,204.25 1403.22,202.48 1406.29,200.48 1409.37,198.21 1412.44,197.68 1415.52,196.97 1418.59,198.01 1421.67,194.93 1424.74,196.99 1427.82,199.68 1430.89,202.73 1433.97,203.71 1437.05,203.85 1440.12,199.74 1443.2,195.39 1446.27,198.66 1449.35,203.03 1452.42,208.01 1455.5,209.38 1458.57,206.46 1461.65,206.25 1464.72,207.07 1467.8,201.79 1470.87,196.54 1473.95,198.21" stroke="#0072bd" stroke-width="2.8" fill="none" stroke-linejoin="round"/>
<path d="M1080.8 189.2Q1303.8 176.85 1526.8 158.5" fill="none" stroke="#d95319" stroke-width="4" stroke-dasharray="15.6 3.7 8.1 3.7" stroke-dashoffset="0"/>
<path d="M1080.8 204.7Q1303.8 198.2 1526.8 188.9" fill="none" stroke="#edb120" stroke-width="4" stroke-dasharray="15.6 3.7 8.1 3.7" stroke-dashoffset="6.4"/>
</g>
<rect x="1382.3" y="67.4" width="125.5" height="71.8" fill="#fff" stroke="#454545" stroke-width="1.6"/>
<path d="M1391.5 82H1451.2M1421.9 74.8V89.2M1415.7 74.8h12.4M1415.7 89.2h12.4" stroke="#0072bd" stroke-width="1.7" fill="none"/>
<line x1="1391.5" y1="103.5" x2="1451.2" y2="103.5" stroke="#d95319" stroke-width="4" stroke-dasharray="15.6 3.7 8.1 3.7"/>
<line x1="1391.5" y1="125.0" x2="1451.2" y2="125.0" stroke="#edb120" stroke-width="4" stroke-dasharray="15.6 3.7 8.1 3.7"/>
<text x="1458.5" y="87.7" font-size="16">SAR</text>
<text x="1458.5" y="109.2" font-size="16">BPM</text>
<text x="1458.5" y="130.7" font-size="16">AIEM</text>
<path d="M1192.3 400.9v-3.9M1192.3 47.9v3.9M1303.8 400.9v-3.9M1303.8 47.9v3.9M1415.3 400.9v-3.9M1415.3 47.9v3.9M1080.8 356.77h3.9M1526.8 356.77h-3.9M1080.8 312.65h3.9M1526.8 312.65h-3.9M1080.8 268.52h3.9M1526.8 268.52h-3.9M1080.8 224.4h3.9M1526.8 224.4h-3.9M1080.8 180.28h3.9M1526.8 180.28h-3.9M1080.8 136.15h3.9M1526.8 136.15h-3.9M1080.8 92.03h3.9M1526.8 92.03h-3.9" stroke="#454545" stroke-width="1.8" fill="none"/>
<rect x="1080.8" y="47.9" width="446" height="353" fill="none" stroke="#454545" stroke-width="2.3"/>
<text x="1080.3" y="424" font-size="16" text-anchor="middle">20</text>
<text x="1191.8" y="424" font-size="16" text-anchor="middle">20.5</text>
<text x="1303.3" y="424" font-size="16" text-anchor="middle">21</text>
<text x="1414.8" y="424" font-size="16" text-anchor="middle">21.5</text>
<text x="1526.3" y="424" font-size="16" text-anchor="middle">22</text>
<text x="1072.9" y="406.3" font-size="16" text-anchor="end">-2</text>
<text x="1072.9" y="362.17" font-size="16" text-anchor="end">-1.5</text>
<text x="1072.9" y="318.05" font-size="16" text-anchor="end">-1</text>
<text x="1072.9" y="273.92" font-size="16" text-anchor="end">-0.5</text>
<text x="1072.9" y="229.8" font-size="16" text-anchor="end">0</text>
<text x="1072.9" y="185.68" font-size="16" text-anchor="end">0.5</text>
<text x="1072.9" y="141.55" font-size="16" text-anchor="end">1</text>
<text x="1072.9" y="97.43" font-size="16" text-anchor="end">1.5</text>
<text x="1072.9" y="53.3" font-size="16" text-anchor="end">2</text>
<text x="1303.3" y="444.3" font-size="16.3" text-anchor="middle">Incidence Angle, deg</text>
<text transform="translate(1034.6 224.4) rotate(-90)" font-size="16.1" text-anchor="middle">PR, dB</text>
</svg></body></html>
